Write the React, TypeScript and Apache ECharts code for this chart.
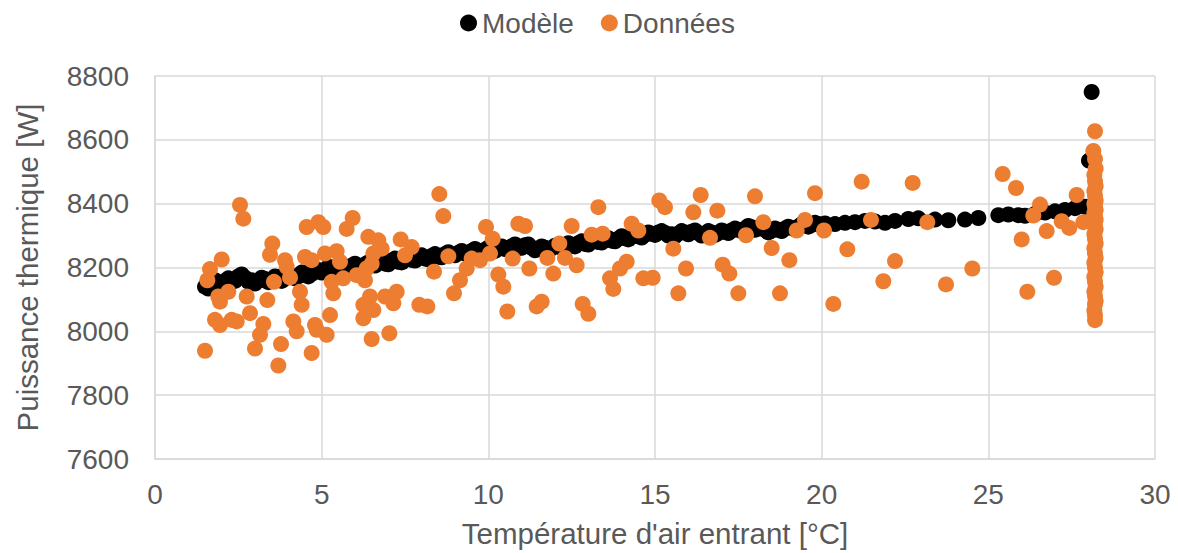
import React, { useEffect, useRef } from "react";
import * as echarts from "echarts";

const modelTemp = [
  1.5, 1.7, 1.9, 2.1, 2.3, 2.5, 2.7, 2.9, 3.1, 3.3, 3.5, 3.7, 3.9, 4.1, 4.3, 4.5, 4.7, 4.9,
  5.1, 5.3, 5.5, 5.7, 5.9, 6.1, 6.3, 6.5, 6.7, 6.9, 7.1, 7.3, 7.5, 7.7, 7.9, 8.1, 8.3, 8.5,
  8.7, 8.9, 9.1, 9.3, 9.5, 9.7, 9.9, 10.1, 10.3, 10.5, 10.7, 10.9, 11.1, 11.3, 11.5, 11.7,
  11.9, 12.1, 12.3, 12.5, 12.7, 12.9, 13.1, 13.3, 13.5, 13.7, 13.9, 14.1, 14.3, 14.5, 14.7,
  14.9, 15.1, 15.3, 15.5, 15.7, 15.9, 16.1, 16.3, 16.5, 16.7, 16.9, 17.1, 17.3, 17.5, 17.7,
  17.9, 18.1, 18.3, 18.5, 18.7, 18.9, 19.1, 19.3, 19.5, 19.7, 19.9, 20.1, 20.4, 20.7, 21.0,
  21.3, 21.6, 21.9, 22.2, 22.6, 22.9, 23.4, 23.8, 24.3, 24.7, 25.3, 25.6, 25.9, 26.1, 26.4,
  26.7, 27.0, 27.3, 27.6, 27.9, 28.1, 28.02, 28.1,
  1.6, 1.8, 2.0, 2.2, 2.4, 2.6, 2.8, 3.0, 3.2, 3.4, 3.6, 3.8, 4.0, 4.2, 4.4, 4.6, 4.8, 5.0,
  5.2, 5.4, 5.6, 5.8, 6.0, 6.2, 6.4, 6.6, 6.8, 7.0, 7.2, 7.4, 7.6, 7.8, 8.0, 8.2, 8.4, 8.6,
  8.8, 9.0, 9.2, 9.4, 9.6, 9.8, 10.0, 10.2, 10.4, 10.6, 10.8, 11.0, 11.2, 11.4, 11.6, 11.8,
  12.0, 12.2, 12.4, 12.6, 12.8, 13.0, 13.2, 13.4, 13.6, 13.8, 14.0, 14.2, 14.4, 14.6, 14.8,
  15.0, 15.2, 15.4, 15.6, 15.8, 16.0, 16.2, 16.4, 16.6, 16.8, 17.0, 17.2, 17.4, 17.6, 17.8,
  18.0, 18.2, 18.4, 18.6, 18.8, 19.0, 19.2, 19.4, 19.6, 19.8, 20.0,
];
const modelPower = [
  8140, 8152, 8148, 8158, 8155, 8172, 8168, 8160, 8158, 8164, 8160, 8170, 8166, 8174, 8172,
  8182, 8180, 8192, 8190, 8200, 8205, 8198, 8206, 8202, 8210, 8208, 8216, 8212, 8222, 8218,
  8226, 8224, 8230, 8228, 8236, 8234, 8242, 8240, 8246, 8244, 8252, 8250, 8256, 8254, 8260,
  8258, 8266, 8262, 8270, 8262, 8258, 8262, 8260, 8266, 8270, 8268, 8276, 8274, 8282, 8280,
  8286, 8284, 8290, 8292, 8296, 8298, 8302, 8306, 8310, 8308, 8304, 8306, 8310, 8312, 8308,
  8306, 8310, 8308, 8312, 8316, 8318, 8322, 8326, 8322, 8318, 8316, 8318, 8322, 8324, 8328,
  8332, 8334, 8336, 8338, 8336, 8340, 8342, 8346, 8344, 8340, 8346, 8352, 8354, 8350, 8348,
  8350, 8355, 8364, 8366, 8364, 8362, 8368, 8372, 8376, 8380, 8386, 8390, 8392, 8535, 8750,
  8134, 8160, 8142, 8166, 8158, 8178, 8156, 8150, 8168, 8154, 8172, 8158, 8176, 8166, 8184,
  8172, 8194, 8184, 8202, 8194, 8210, 8196, 8212, 8200, 8216, 8206, 8222, 8210, 8228, 8216,
  8232, 8222, 8238, 8226, 8242, 8232, 8248, 8238, 8252, 8242, 8258, 8248, 8262, 8252, 8266,
  8256, 8272, 8262, 8272, 8254, 8266, 8256, 8268, 8262, 8276, 8266, 8282, 8272, 8288, 8278,
  8292, 8282, 8298, 8288, 8304, 8294, 8310, 8302, 8314, 8300, 8298, 8314, 8304, 8316, 8300,
  8314, 8302, 8316, 8308, 8322, 8314, 8330, 8318, 8326, 8310, 8322, 8314, 8328, 8320, 8336,
  8328, 8340, 8332,
];

const dataTemp = [
  1.5, 1.57, 1.65, 1.8, 1.9, 1.95, 1.95, 2.0, 2.2, 2.3, 2.45, 2.55, 2.65, 2.75, 2.85, 3.0,
  3.15, 3.25, 3.37, 3.45, 3.52, 3.57, 3.7, 3.78, 3.9, 3.95, 4.05, 4.15, 4.25, 4.35, 4.4, 4.5,
  4.55, 4.7, 4.7, 4.8, 4.85, 4.9, 5.05, 5.1, 5.15, 5.25, 5.3, 5.35, 5.45, 5.55, 5.65, 5.75,
  5.93, 6.05, 6.25, 6.25, 6.3, 6.35, 6.4, 6.45, 6.5, 6.5, 6.55, 6.55, 6.7, 6.8, 6.9, 7.03,
  7.15, 7.25, 7.37, 7.5, 7.7, 7.93, 8.17, 8.37, 8.53, 8.65, 8.8, 8.97, 9.15, 9.35, 9.5, 9.75,
  9.93, 10.05, 10.13, 10.3, 10.45, 10.57, 10.73, 10.9, 11.1, 11.23, 11.45, 11.6, 11.77,
  11.95, 12.13, 12.3, 12.5, 12.65, 12.83, 13.0, 13.1, 13.3, 13.43, 13.65, 13.75, 13.95,
  14.15, 14.3, 14.5, 14.65, 14.93, 15.13, 15.3, 15.55, 15.7, 15.93, 16.15, 16.37, 16.65,
  16.87, 17.03, 17.23, 17.5, 17.73, 18.0, 18.25, 18.5, 18.75, 19.03, 19.25, 19.5, 19.8,
  20.07, 20.35, 20.77, 21.2, 21.48, 21.85, 22.2, 22.73, 23.17, 23.73, 24.52, 25.43, 25.83,
  26.0, 26.17, 26.35, 26.55, 26.75, 26.97, 27.2, 27.43, 27.65, 27.85,
  28.2, 28.15, 28.2, 28.22, 28.18, 28.2, 28.22, 28.18, 28.2, 28.22, 28.18, 28.2, 28.22,
  28.18, 28.2, 28.22, 28.18, 28.2, 28.22, 28.18, 28.2, 28.22, 28.18, 28.2, 28.22, 28.18,
  28.2, 28.22, 28.18, 28.2, 28.22, 28.18, 28.2, 28.22, 28.2, 28.18, 28.2, 28.2,
];
const dataPower = [
  7939, 8160, 8195, 8036, 8109, 8093, 8020, 8225, 8124, 8036, 8031, 8396, 8353, 8109, 8057,
  7946, 7989, 8023, 8098, 8240, 8275, 8155, 7893, 7960, 8223, 8202, 8169, 8031, 8000, 8124,
  8083, 8233, 8327, 8223, 7932, 8020, 8005, 8342, 8327, 8244, 7989, 8051, 8155, 8119, 8251,
  8218, 8166, 8321, 8355, 8176, 8083, 8041, 8160, 8197, 8296, 8109, 8212, 7976, 8244, 8067,
  8285, 8259, 8109, 7994, 8088, 8124, 8288, 8238, 8264, 8083, 8078, 8187, 8430, 8361, 8235,
  8119, 8160, 8197, 8228, 8223, 8327, 8244, 8290, 8178, 8140, 8062, 8228, 8337, 8330, 8197,
  8078, 8093, 8230, 8181, 8275, 8230, 8330, 8207, 8086, 8055, 8303, 8389, 8306, 8166, 8133,
  8197, 8218, 8337, 8316, 8166, 8168, 8410, 8389, 8259, 8119, 8197, 8373, 8427, 8293, 8378,
  8209, 8181, 8119, 8301, 8423, 8342, 8261, 8119, 8223, 8316, 8349, 8433, 8316, 8086, 8257,
  8469, 8349, 8157, 8220, 8465, 8342, 8147, 8197, 8493, 8449, 8288, 8124, 8363, 8397, 8314,
  8168, 8345, 8324, 8427, 8342,
  8627, 8565, 8540, 8510, 8490, 8470, 8455, 8440, 8425, 8410, 8400, 8390, 8380, 8370, 8360,
  8350, 8340, 8330, 8320, 8305, 8290, 8275, 8260, 8245, 8230, 8215, 8200, 8185, 8170, 8155,
  8140, 8125, 8110, 8095, 8085, 8065, 8050, 8035,
];

const seriesNames = ["Modèle", "Données"];
const xTicks = { min: 0, max: 30, interval: 5 };
const yTicks = { min: 7600, max: 8800, interval: 200 };

const FONT = "'Liberation Sans', Arial, sans-serif";
const TXT = "#595959";
const GRID = "#d9d9d9";
const FS = 28;
const TITLE_FS = 29.5;

export default function App() {
  const ref = useRef<HTMLDivElement>(null);
  useEffect(() => {
    if (!ref.current) return;
    const chart = echarts.init(ref.current, null, { renderer: "svg" });
    const modelData = modelTemp.map((x, i) => [x, modelPower[i]]);
    const obsData = dataTemp.map((x, i) => [x, dataPower[i]]);
    chart.setOption({
      animation: false,
      textStyle: { fontFamily: FONT },
      legend: {
        top: 4,
        left: 455,
        itemWidth: 17,
        itemHeight: 17,
        itemGap: 27,
        icon: "circle",
        textStyle: { fontSize: FS, color: TXT, fontFamily: FONT },
        data: seriesNames,
      },
      grid: { left: 155, right: 23, top: 76, bottom: 91 },
      xAxis: {
        type: "value",
        min: xTicks.min,
        max: xTicks.max,
        interval: xTicks.interval,
        name: "Température d'air entrant [°C]",
        nameLocation: "middle",
        nameGap: 59,
        nameTextStyle: { fontSize: TITLE_FS, color: TXT, fontFamily: FONT },
        axisLine: { show: true, lineStyle: { color: GRID, width: 1.5 } },
        axisTick: { show: false },
        splitLine: { show: true, lineStyle: { color: GRID, width: 1.5 } },
        axisLabel: { fontSize: FS, color: TXT, margin: 21, fontFamily: FONT },
      },
      yAxis: {
        type: "value",
        min: yTicks.min,
        max: yTicks.max,
        interval: yTicks.interval,
        name: "Puissance thermique [W]",
        nameLocation: "middle",
        nameGap: 113,
        nameTextStyle: { fontSize: TITLE_FS, color: TXT, fontFamily: FONT },
        axisLine: { show: true, lineStyle: { color: GRID, width: 1.5 } },
        axisTick: { show: false },
        splitLine: { show: true, lineStyle: { color: GRID, width: 1.5 } },
        axisLabel: {
          fontSize: FS,
          color: TXT,
          margin: 26,
          fontFamily: FONT,
          formatter: (v: number) => String(v),
        },
      },
      series: [
        {
          name: seriesNames[0],
          type: "scatter",
          symbolSize: 16,
          itemStyle: { color: "#000000", opacity: 1 },
          data: modelData,
        },
        {
          name: seriesNames[1],
          type: "scatter",
          symbolSize: 16,
          itemStyle: { color: "#ED7D31", opacity: 1 },
          data: obsData,
        },
      ],
    });
    return () => chart.dispose();
  }, []);
  return (
    <div
      ref={ref}
      style={{ position: "fixed", left: 0, top: 0, width: 1178, height: 553, background: "#fff" }}
    />
  );
}
